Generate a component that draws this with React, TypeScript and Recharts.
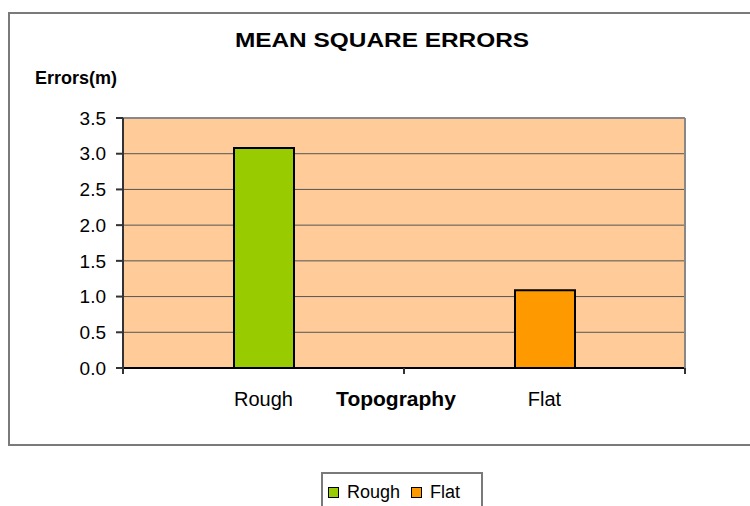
import React from "react";
import {
  BarChart,
  Bar,
  XAxis,
  YAxis,
  CartesianGrid,
  Legend,
  ReferenceLine,
} from "recharts";

const categories = ["Rough", "Flat"];
const roughErrors = [3.08, 0];
const flatErrors = [0, 1.09];
const yTicks = [0, 0.5, 1, 1.5, 2, 2.5, 3, 3.5];

const seriesNames = ["Rough", "Flat"];
const seriesColors: Record<string, string> = { Rough: "#99CC00", Flat: "#FF9900" };

const data = categories.map((name, i) => ({
  name,
  Rough: roughErrors[i],
  Flat: flatErrors[i],
}));

const FONT = '"Liberation Sans", Arial, sans-serif';

function XTick(props: any) {
  const { x, y, payload, index } = props;
  const half = payload?.offset || 140.5;
  return (
    <g>
      <text x={x} y={y + 38} textAnchor="middle" fontSize={20} fill="#000" fontFamily={FONT}>
        {payload.value}
      </text>
      <line x1={x + half} x2={x + half} y1={y} y2={y + 6} stroke="#333" strokeWidth={2} />
      {index === 0 && (
        <line x1={x - half} x2={x - half} y1={y} y2={y + 6} stroke="#333" strokeWidth={2} />
      )}
    </g>
  );
}

function TopoLabel(props: any) {
  const { x, y, width } = props.viewBox;
  return (
    <text x={x + width / 2 - 8} y={y + 38} textAnchor="middle" fontSize={21} fontWeight="bold" fill="#000" fontFamily={FONT}>
      Topography
    </text>
  );
}

function LegendBox(props: any) {
  // keep the series order, not alphabetical
  const items = [...(props.payload || [])].sort(
    (a: any, b: any) => seriesNames.indexOf(a.value) - seriesNames.indexOf(b.value)
  );
  return (
    <div style={{ display: "flex", alignItems: "center", paddingLeft: 5, paddingTop: 8, fontFamily: FONT }}>
      {items.map((it: any, i: number) => (
        <div key={it.value} style={{ display: "flex", alignItems: "center" }}>
          <span
            style={{
              display: "inline-block",
              width: 9,
              height: 9,
              border: "1.5px solid #000",
              background: it.color,
              marginRight: 8,
            }}
          />
          <span style={{ fontSize: 18, color: "#000", marginRight: i === 0 ? 11 : 0 }}>{it.value}</span>
        </div>
      ))}
    </div>
  );
}

export default function App() {
  return (
    <div
      style={{
        position: "absolute",
        left: 0,
        top: 0,
        width: 750,
        height: 506,
        overflow: "hidden",
        background: "#fff",
        fontFamily: FONT,
      }}
    >
      <div
        style={{
          position: "absolute",
          left: 8,
          top: 12,
          width: 760,
          height: 434,
          border: "2px solid #7a7a7a",
          boxSizing: "border-box",
        }}
      />
      <div
        style={{
          position: "absolute",
          left: 0,
          top: 30,
          width: 764,
          textAlign: "center",
          fontSize: 20,
          lineHeight: "20px",
          fontWeight: "bold",
          transform: "scaleX(1.22)",
        }}
      >
        MEAN SQUARE ERRORS
      </div>
      <div
        style={{
          position: "absolute",
          left: 35,
          top: 69,
          fontSize: 18,
          lineHeight: "18px",
          fontWeight: "bold",
        }}
      >
        Errors(m)
      </div>
      <div style={{ position: "absolute", left: 0, top: 0 }}>
        <BarChart width={750} height={506} data={data} margin={{ top: 118, right: 0, bottom: 98, left: 63 }}>
          <CartesianGrid vertical={false} stroke="#555" strokeWidth={1} fill="#FFCC99" fillOpacity={1} />
          <ReferenceLine y={3.5} stroke="#888" strokeWidth={2} />
          <XAxis
            dataKey="name"
            height={40}
            tickSize={0}
            tickMargin={0}
            tickLine={false}
            axisLine={{ stroke: "#000", strokeWidth: 2 }}
            tick={<XTick />}
            label={TopoLabel}
          />
          <YAxis
            width={60}
            domain={[0, 3.5]}
            ticks={yTicks}
            tickFormatter={(v: number) => v.toFixed(1)}
            tickSize={7}
            tickMargin={10}
            tickLine={{ stroke: "#333", strokeWidth: 2 }}
            axisLine={{ stroke: "#333", strokeWidth: 2 }}
            tick={{ fontSize: 19, fill: "#000", fontFamily: FONT }}
            interval={0}
          />
          <YAxis
            yAxisId="right"
            orientation="right"
            width={65}
            domain={[0, 3.5]}
            tick={false}
            tickLine={false}
            axisLine={{ stroke: "#888", strokeWidth: 2 }}
          />
          <Legend
            layout="horizontal"
            verticalAlign="middle"
            align="center"
            content={<LegendBox />}
            wrapperStyle={{
              left: 321,
              top: 472,
              width: 162,
              height: 44,
              border: "2px solid #7a7a7a",
              boxSizing: "border-box",
              background: "#fff",
            }}
          />
          <Bar dataKey="Rough" stackId="a" fill={seriesColors.Rough} stroke="#000" strokeWidth={2} barSize={60} isAnimationActive={false} />
          <Bar dataKey="Flat" stackId="a" fill={seriesColors.Flat} stroke="#000" strokeWidth={2} barSize={60} isAnimationActive={false} />
        </BarChart>
      </div>
    </div>
  );
}
